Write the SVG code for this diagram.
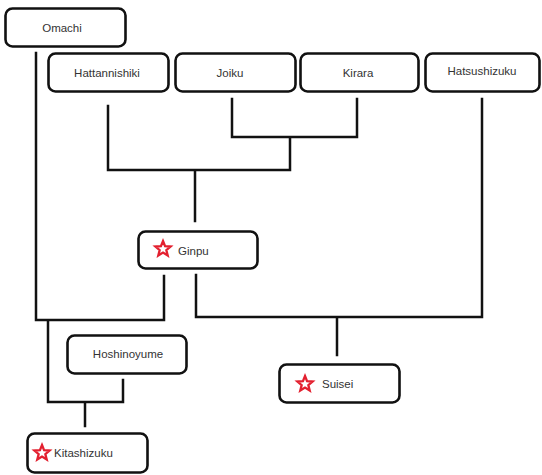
<svg xmlns="http://www.w3.org/2000/svg" xmlns:xlink="http://www.w3.org/1999/xlink" width="542" height="475" viewBox="0 0 542 475">
<style>
.box{fill:#fff;stroke:#111;stroke-width:2.6}
.lbl{font-family:"Liberation Sans",Arial,sans-serif;font-size:11.5px;fill:#333;text-anchor:middle}
.lbl2{font-family:"Liberation Sans",Arial,sans-serif;font-size:11.5px;fill:#333}
.con{fill:none;stroke:#111;stroke-width:2.5;stroke-linecap:square}
</style>
<defs>
<polygon id="star" points="0,-8 2.06,-2.83 7.61,-2.47 3.33,1.08 4.7,6.47 0,3.5 -4.7,6.47 -3.33,1.08 -7.61,-2.47 -2.06,-2.83" fill="#fff" stroke="#e3202f" stroke-width="2.3" stroke-linejoin="miter"/>
</defs>
<rect width="542" height="475" fill="#fff"/>
<g id="connectors">
<path class="con" d="M232 99V137H357V99M290 137V170H108V106M195 170V221"/>
<path class="con" d="M482 99V317H196V275M337 317V355"/>
<path class="con" d="M36 53V320H164V276M48 320V402H123V380M85 402V426"/>
</g>
<g id="omachi"><rect class="box" x="5.5" y="8.5" width="120" height="38" rx="7"/><text class="lbl" x="62" y="32">Omachi</text></g>
<g id="hattannishiki"><rect class="box" x="48.5" y="53.5" width="120" height="38" rx="7"/><text class="lbl" x="107" y="77">Hattannishiki</text></g>
<g id="joiku"><rect class="box" x="175.5" y="53.5" width="120" height="38" rx="7"/><text class="lbl" x="230" y="77">Joiku</text></g>
<g id="kirara"><rect class="box" x="300.5" y="53.5" width="118" height="38" rx="7"/><text class="lbl" x="358" y="77">Kirara</text></g>
<g id="hatsushizuku"><rect class="box" x="425.5" y="53.5" width="114" height="38" rx="7"/><text class="lbl" x="482" y="75">Hatsushizuku</text></g>
<g id="ginpu"><rect class="box" x="138.5" y="231.5" width="119" height="37" rx="7"/><use xlink:href="#star" x="163" y="249"/><text class="lbl2" x="178" y="255">Ginpu</text></g>
<g id="hoshinoyume"><rect class="box" x="67.5" y="335.5" width="119" height="38" rx="7"/><text class="lbl" x="128" y="358">Hoshinoyume</text></g>
<g id="suisei"><rect class="box" x="279.5" y="364.5" width="120" height="38" rx="7"/><use xlink:href="#star" x="305" y="384"/><text class="lbl2" x="322" y="388">Suisei</text></g>
<g id="kitashizuku"><rect class="box" x="27.5" y="433.5" width="120" height="39" rx="7"/><use xlink:href="#star" x="42" y="453"/><text class="lbl2" x="54" y="457">Kitashizuku</text></g>
</svg>
